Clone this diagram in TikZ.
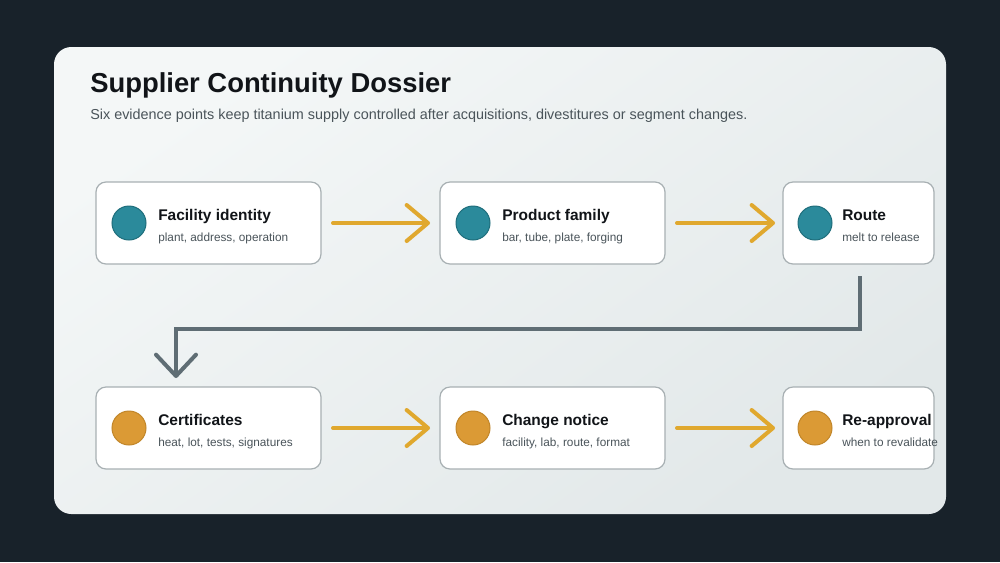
\documentclass[tikz,border=0pt]{standalone}
\usepackage{fontspec}
\setmainfont{Liberation Sans}
\usetikzlibrary{arrows.meta,calc}
\definecolor{bg}{HTML}{18222A}
\definecolor{cardA}{HTML}{F4F7F7}
\definecolor{cardB}{HTML}{E2E8E9}
\definecolor{boxline}{HTML}{A8B0B3}
\definecolor{teal}{HTML}{2B8A9B}
\definecolor{tealdark}{HTML}{1F6E7C}
\definecolor{amber}{HTML}{DB9A35}
\definecolor{amberdark}{HTML}{C1862A}
\definecolor{flow}{HTML}{E0A82E}
\definecolor{conn}{HTML}{5F6D74}
\definecolor{titlec}{HTML}{111418}
\definecolor{subc}{HTML}{4A545A}
\begin{document}
\begin{tikzpicture}[x=0.75pt,y=-0.75pt,
  card/.style={draw=none, rounded corners=13pt},
  box/.style={draw=boxline, line width=0.9pt, fill=white, rounded corners=7.5pt,
    minimum height=61.5pt, inner sep=0pt, outer sep=0pt},
  dot/.style={circle, minimum size=25.5pt, inner sep=0pt, line width=0.75pt},
  tealdot/.style={dot, fill=teal, draw=tealdark},
  amberdot/.style={dot, fill=amber, draw=amberdark},
  boxtitle/.style={anchor=base west, inner sep=0pt, text=titlec, font=\bfseries\fontsize{11.6}{13}\selectfont},
  boxsub/.style={anchor=base west, inner sep=0pt, text=subc, font=\fontsize{8.85}{10}\selectfont},
  flowarrow/.style={draw=flow, line width=3pt, line cap=round,
    -{Straight Barb[length=16pt,width=27pt,round]}},
  connarrow/.style={draw=conn, line width=3pt, line join=miter,
    -{Straight Barb[length=16pt,width=30pt,round]}}
]
\fill[bg] (0,0) rectangle (1000,562);
\useasboundingbox (0,0) rectangle (1000,562);
\shade[card, top color=cardA, bottom color=cardB, shading angle=35] (54,47) rectangle (946,514);

\node[anchor=base west, inner sep=0pt, text=titlec, font=\bfseries\fontsize{20.55}{24}\selectfont] (title) at (90,92) {Supplier Continuity Dossier};
\node[anchor=base west, inner sep=0pt, text=subc, font=\fontsize{10.8}{13}\selectfont] (subtitle) at (90,119) {Six evidence points keep titanium supply controlled after acquisitions, divestitures or segment changes.};

% row 1
\node[box, minimum width=168.75pt] (b1) at (208.5,223) {};
\node[box, minimum width=168.75pt] (b2) at (552.5,223) {};
\node[box, minimum width=113.25pt] (b3) at (858.5,223) {};
% row 2
\node[box, minimum width=168.75pt] (b4) at (208.5,428) {};
\node[box, minimum width=168.75pt] (b5) at (552.5,428) {};
\node[box, minimum width=113.25pt] (b6) at (858.5,428) {};

\node[tealdot] (c1) at (129,223) {};
\node[tealdot] (c2) at (473,223) {};
\node[tealdot] (c3) at (815,223) {};
\node[amberdot] (c4) at (129,428) {};
\node[amberdot] (c5) at (473,428) {};
\node[amberdot] (c6) at (815,428) {};

\node[boxtitle] (t1) at (158,220) {Facility identity};
\node[boxsub] (s1) at (158,241) {plant, address, operation};
\node[boxtitle] (t2) at (502,220) {Product family};
\node[boxsub] (s2) at (502,241) {bar, tube, plate, forging};
\node[boxtitle] (t3) at (842,220) {Route};
\node[boxsub] (s3) at (842,241) {melt to release};
\node[boxtitle] (t4) at (158,425) {Certificates};
\node[boxsub] (s4) at (158,446) {heat, lot, tests, signatures};
\node[boxtitle] (t5) at (502,425) {Change notice};
\node[boxsub] (s5) at (502,446) {facility, lab, route, format};
\node[boxtitle] (t6) at (842,425) {Re-approval};
\node[boxsub] (s6) at (842,446) {when to revalidate};

\draw[flowarrow] ([xshift=9pt]b1.east) -- ([xshift=-7.5pt]b2.west);
\draw[flowarrow] ([xshift=9pt]b2.east) -- ([xshift=-6pt]b3.west);
\draw[flowarrow] ([xshift=9pt]b4.east) -- ([xshift=-7.5pt]b5.west);
\draw[flowarrow] ([xshift=9pt]b5.east) -- ([xshift=-6pt]b6.west);

\draw[connarrow] ([shift={(1.5,12)}]b3.south) |- ([shift={(-32.5,-58)}]b4.north) -- ([shift={(-32.5,-9)}]b4.north);
\end{tikzpicture}
\end{document}
